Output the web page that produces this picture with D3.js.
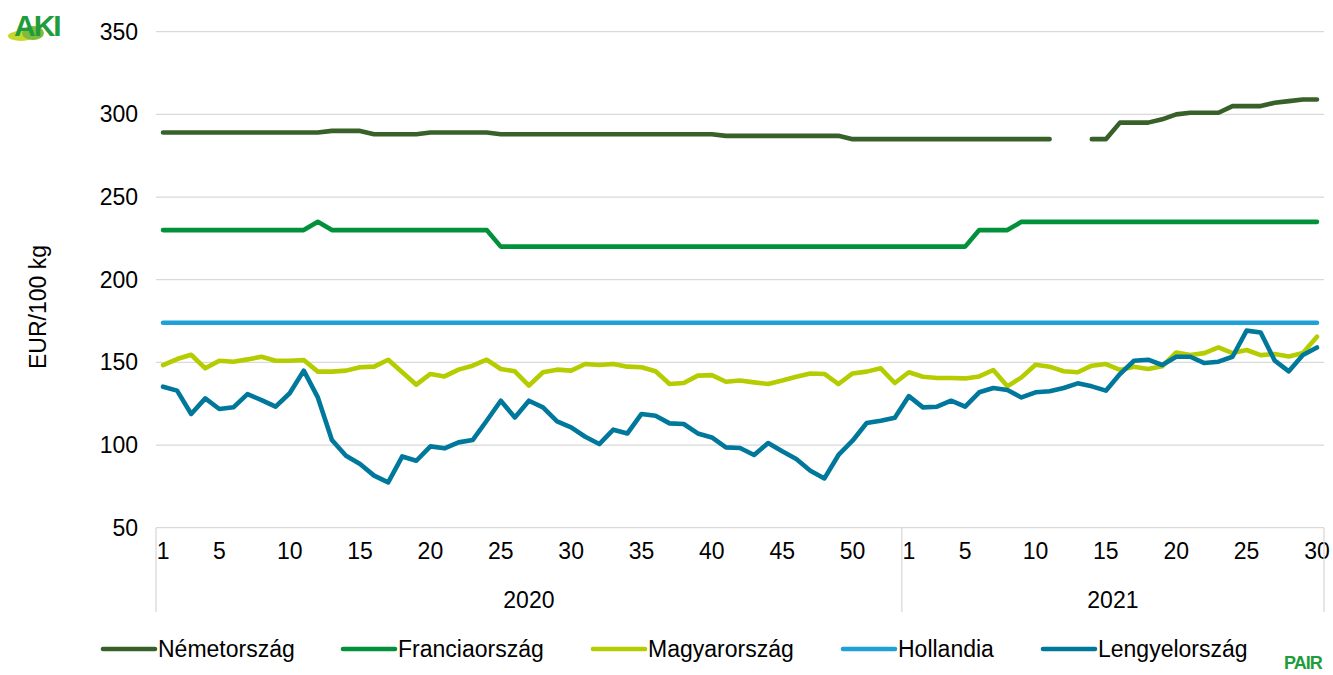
<!DOCTYPE html>
<html>
<head>
<meta charset="utf-8">
<script src="https://cdn.jsdelivr.net/npm/d3@7"></script>
<style>
  body { margin: 0; background: #fff; }
  svg { font-family: "Liberation Sans", Arial, sans-serif; }
</style>
</head>
<body>
<svg id="chart"></svg>
<script>
// heti árak, EUR/100 kg
const years = ["2020", "2021"]
const weeksPerYear = [53, 30]
const weekLabels = [1, 5, 10, 15, 20, 25, 30, 35, 40, 45, 50]
const yTicks = [50, 100, 150, 200, 250, 300, 350]

const nemet = [
  289,289,289,289,289,289,289,289,289,289,289,289,290,290,290,288,288,288,288,289,
  289,289,289,289,288,288,288,288,288,288,288,288,288,288,288,288,288,288,288,288,
  287,287,287,287,287,287,287,287,287,285,285,285,285,
  285,285,285,285,285,285,285,285,285,285,285,null,null,285,285,295,295,295,297,300,
  301,301,301,305,305,305,307,308,309,309]
const francia = [
  230,230,230,230,230,230,230,230,230,230,230,235,230,230,230,230,230,230,230,230,
  230,230,230,230,220,220,220,220,220,220,220,220,220,220,220,220,220,220,220,220,
  220,220,220,220,220,220,220,220,220,220,220,220,220,
  220,220,220,220,220,230,230,230,235,235,235,235,235,235,235,235,235,235,235,235,
  235,235,235,235,235,235,235,235,235,235]
const magyar = [
  148.4,152,154.6,146.4,151,150.4,151.8,153.4,151,151,151.4,144.4,144.4,145,147,147.4,151.6,144,136.5,143,
  141.5,145.6,148,151.6,146,144.6,135.9,144,145.6,145,149,148.4,149,147.4,147,144.6,136.9,137.5,142,142.3,
  138.3,139,137.9,136.9,139,141.3,143.3,143,136.9,143.3,144.4,146.4,137.5,
  144,141.3,140.5,140.5,140.3,141.5,145.4,135.5,140.9,148.6,147.4,144.6,144,148,149,145.4,147.4,146,147.6,
  156,154.4,155.6,159,155.6,157.5,154.4,155,153.6,155.6,165.5]
const holland = Array(83).fill(174)
const lengyel = [
  135.3,132.9,118.8,128.2,121.8,122.8,130.8,127.2,123.2,131.3,145,128.8,103,93.5,88.5,81.5,77.4,93.1,90.5,99.2,
  98,101.6,103,114.7,126.8,116.7,126.8,122.8,114.3,110.7,105,100.6,109.3,107,118.8,117.7,113.1,112.7,107,104.6,
  98.6,98.2,94,101.2,96.2,91.5,84.5,79.8,94,102.6,113.3,114.7,116.5,
  129.6,122.8,123.2,126.8,123.2,131.9,134.5,133.3,128.8,131.9,132.5,134.5,137.3,135.5,132.9,142.9,151,151.6,148.4,
  153.4,153.4,149.6,150.4,153.4,169.2,168.1,151,144.6,154.4,159]

const seriesNames = ["Németország", "Franciaország", "Magyarország", "Hollandia", "Lengyelország"]
const seriesValues = [nemet, francia, magyar, holland, lengyel]
const seriesColors = ["#386129", "#00913a", "#b5cd00", "#1fa0d6", "#00789c"]

const width = 1333, height = 675
const fs = 23
const svg = d3.select("#chart").attr("width", width).attr("height", height)

// kategóriák: év + hét
const cats = []
years.forEach((y, yi) => {
  for (let w = 1; w <= weeksPerYear[yi]; w++) cats.push({year: y, week: w, key: y + "-" + w})
})

const x = d3.scaleBand().domain(cats.map(d => d.key)).range([156, 1324]).padding(0)
const y = d3.scaleLinear().domain([50, 350]).range([527.7, 31.7])
const cx = k => x(k) + x.bandwidth() / 2

// rácsvonalak
svg.append("g")
  .selectAll("line")
  .data(yTicks)
  .join("line")
    .attr("x1", 156).attr("x2", 1324)
    .attr("y1", d => y(d)).attr("y2", d => y(d))
    .attr("stroke", "#d9d9d9").attr("stroke-width", 1.3)

// y tengely feliratai
const yAxis = svg.append("g")
  .attr("transform", "translate(138,0)")
  .call(d3.axisLeft(y).tickValues(yTicks).tickSize(0).tickPadding(0))
yAxis.select(".domain").remove()
yAxis.selectAll("text")
  .attr("font-size", fs).attr("fill", "#000")
  .attr("font-family", "Liberation Sans, Arial, sans-serif")

svg.append("text")
  .attr("transform", "translate(46,307) rotate(-90)")
  .attr("text-anchor", "middle")
  .attr("font-size", fs)
  .text("EUR/100 kg")

// x tengely: hetek
const xAxis = svg.append("g")
  .attr("transform", "translate(0," + y(50) + ")")
  .call(d3.axisBottom(x)
    .tickValues(cats.filter(d => weekLabels.includes(d.week)).map(d => d.key))
    .tickFormat(k => k.split("-")[1])
    .tickSize(0).tickPadding(15))
xAxis.select(".domain").remove()
xAxis.selectAll("text")
  .attr("font-size", fs).attr("fill", "#000")
  .attr("font-family", "Liberation Sans, Arial, sans-serif")

// év csoportok
const groups = years.map(yr => {
  const ks = cats.filter(d => d.year === yr).map(d => d.key)
  return {year: yr, x0: x(ks[0]), x1: x(ks[ks.length - 1]) + x.bandwidth()}
})
const seps = [groups[0].x0].concat(groups.map(g => g.x1))
svg.append("g")
  .selectAll("line")
  .data(seps)
  .join("line")
    .attr("x1", d => d).attr("x2", d => d)
    .attr("y1", y(50)).attr("y2", 612)
    .attr("stroke", "#d9d9d9").attr("stroke-width", 1.3)
svg.append("g")
  .selectAll("text")
  .data(groups)
  .join("text")
    .attr("x", d => (d.x0 + d.x1) / 2)
    .attr("y", 608)
    .attr("text-anchor", "middle")
    .attr("font-size", fs)
    .text(d => d.year)

// vonalak
const line = d3.line()
  .defined(d => d.v != null)
  .x(d => cx(d.key))
  .y(d => y(d.v))

svg.append("g")
  .selectAll("path")
  .data(seriesValues.map((vals, i) => ({i, pts: cats.map((c, j) => ({key: c.key, v: vals[j]}))})))
  .join("path")
    .attr("d", d => line(d.pts))
    .attr("fill", "none")
    .attr("stroke", d => seriesColors[d.i])
    .attr("stroke-width", 4.6)
    .attr("stroke-linejoin", "round")
    .attr("stroke-linecap", "round")

// jelmagyarázat
const legendX = [100, 340, 590, 840, 1040]
const leg = svg.append("g")
  .selectAll("g")
  .data(seriesNames)
  .join("g")
    .attr("transform", (d, i) => "translate(" + legendX[i] + ",649)")
leg.append("line")
  .attr("x1", 3).attr("x2", 55)
  .attr("stroke", (d, i) => seriesColors[i])
  .attr("stroke-width", 4.6).attr("stroke-linecap", "round")
leg.append("text")
  .attr("x", 58).attr("y", 8)
  .attr("font-size", fs)
  .text(d => d)

// logók
const logo = svg.append("g")
logo.append("ellipse").attr("cx", 21).attr("cy", 36).attr("rx", 13).attr("ry", 5).attr("fill", "#c8d82a")
logo.append("ellipse").attr("cx", 33).attr("cy", 33).attr("rx", 11).attr("ry", 7).attr("fill", "#7fbb3c")
logo.append("text")
  .attr("x", 14).attr("y", 36)
  .attr("font-size", 30).attr("font-weight", "bold")
  .attr("fill", "#1f9c3c").attr("letter-spacing", -2)
  .text("AKI")
svg.append("text")
  .attr("x", 1284).attr("y", 669)
  .attr("font-size", 18).attr("font-weight", "bold")
  .attr("fill", "#1f9c3c").attr("letter-spacing", -1)
  .text("PAIR")
</script>
</body>
</html>
